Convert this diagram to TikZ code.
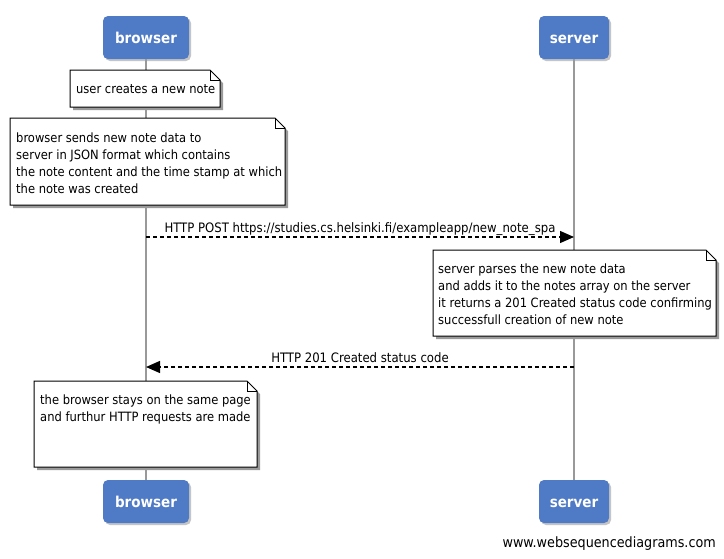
\documentclass[tikz,border=0pt]{standalone}
\usepackage{fontspec}
\setmainfont{DejaVu Sans Condensed}
\usetikzlibrary{arrows.meta,shadows,calc}
\definecolor{pblue}{HTML}{4F7AC6}
\definecolor{shadowc}{HTML}{9A9A9A}
\newcommand\notebox[4]{%
  \fill[shadowc] ({#1+3},{#2+3}) -- ({#3+3-10},{#2+3}) -- ({#3+3},{#2+13}) -- ({#3+3},{#4+3}) -- ({#1+3},{#4+3}) -- cycle;
  \draw[fill=white, line width=1pt] (#1,#2) -- ({#3-10},#2) -- (#3,{#2+10}) -- (#3,#4) -- (#1,#4) -- cycle;
  \draw[line width=0.6pt] ({#3-10},#2) -- ({#3-10},{#2+10}) -- (#3,{#2+10});}
\begin{document}
\begin{tikzpicture}[x=1pt,y=-1pt,
  part/.style={rounded corners=5pt, fill=pblue, text=white, font=\fontsize{15}{17}\selectfont\bfseries, minimum height=43pt, text height=11pt, text depth=0pt, drop shadow={shadow xshift=2pt,shadow yshift=-2pt,fill=black!45}, inner sep=0pt},
  life/.style={draw=black!40, line width=1.6pt},
  msg/.style={dash pattern=on 4pt off 3pt, line width=1.3pt, -{Triangle[length=14pt,width=12pt]}},
  notetext/.style={anchor=north west, inner sep=0pt, align=left, font=\fontsize{12.8}{17}\selectfont},
  lbl/.style={anchor=base, yshift=5pt, inner sep=0pt, font=\fontsize{13}{15}\selectfont}
]
\useasboundingbox[fill=white] (0,0) rectangle (724,558);

\node[part, minimum width=86pt] (bt) at (146,37.5) {browser};
\node[part, minimum width=70pt] (st) at (574,37.5) {server};
\node[part, minimum width=86pt] (bb) at (146,501.5) {browser};
\node[part, minimum width=70pt] (sb) at (574,501.5) {server};

\draw[life] (bt.south) -- (bb.north);
\draw[life] (st.south) -- (sb.north);

\notebox{70}{70}{220}{107}
\node[notetext] (n1) at (76,84.5) {user creates a new note};

\notebox{10}{118}{285}{205}
\node[notetext] (n2) at (16,132.5) {browser sends new note data to\\server in JSON format which contains\\the note content and the time stamp at which\\the note was created};

\coordinate (b1) at (146,237);
\coordinate (s1) at (574,237);
\draw[msg] (b1) -- node[lbl] (m1) {HTTP POST https://studies.cs.helsinki.fi/exampleapp/new\_note\_spa} (s1);

\notebox{433}{250}{716}{336}
\node[notetext] (n3) at (438,263.5) {server parses the new note data\\and adds it to the notes array on the server\\it returns a 201 Created status code confirming\\successfull creation of new note};

\coordinate (s2) at (574,367);
\coordinate (b2) at (146,367);
\draw[msg] (s2) -- node[lbl] (m2) {HTTP 201 Created status code} (b2);

\notebox{34}{381}{257}{467}
\node[notetext] (n4) at (40,394.5) {the browser stays on the same page\\and furthur HTTP requests are made};

\node[anchor=base east, inner sep=0pt, font=\fontsize{14.2}{16}\selectfont] (wsd) at (716,547) {www.websequencediagrams.com};
\end{tikzpicture}
\end{document}
